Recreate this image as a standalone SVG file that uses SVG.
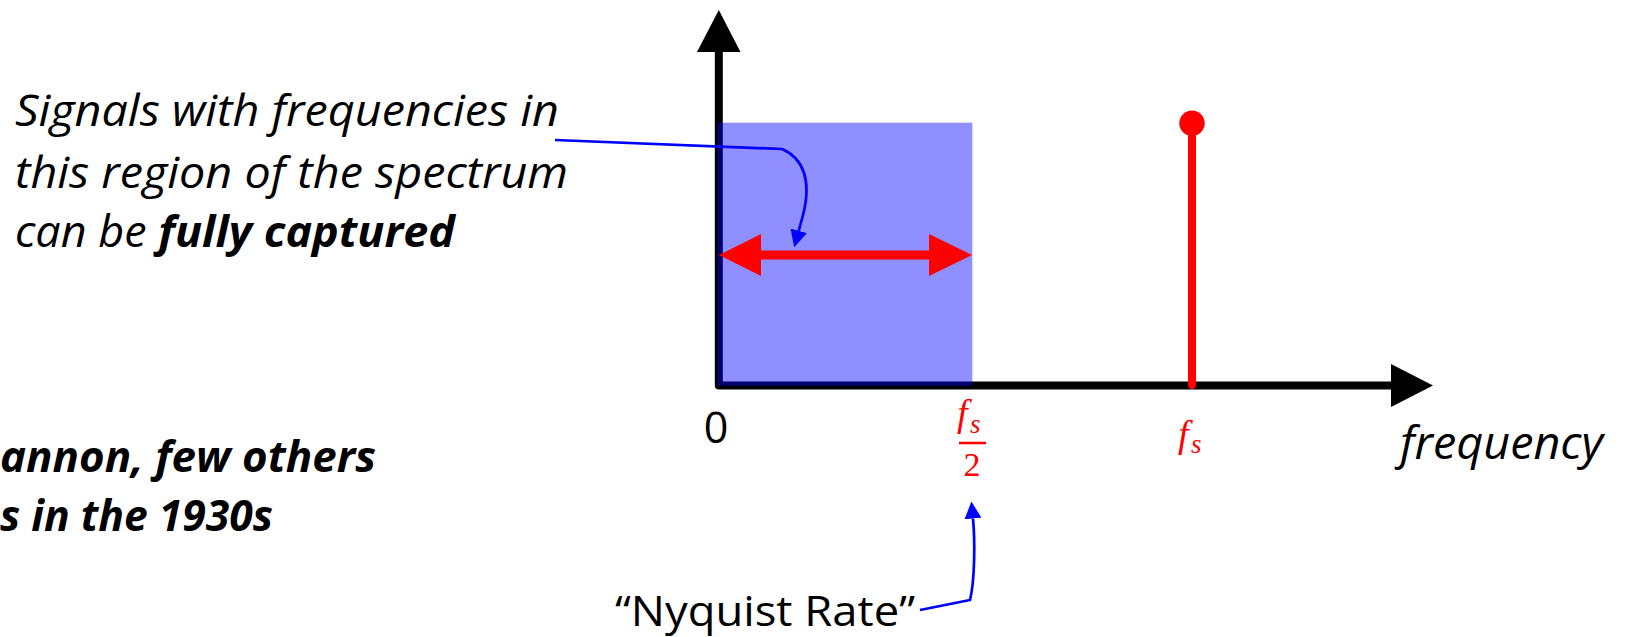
<svg xmlns="http://www.w3.org/2000/svg" width="1627" height="637" viewBox="0 0 1627 637">
  <style>
    .txt { font-family: 'Open Sans', 'Noto Sans', sans-serif; fill: #000; }
    .it { font-style: italic; }
    .bd { font-weight: bold; }
    .math { font-family: 'Liberation Serif', 'DejaVu Serif', serif; fill: #ff0000; }
    .ptr { fill: none; stroke: #0000ff; stroke-width: 2.7; stroke-linejoin: round; }
  </style>
  <defs>
    <marker id="bluehead" viewBox="0 0 17 17" refX="0" refY="8.5" markerWidth="17" markerHeight="17" markerUnits="userSpaceOnUse" orient="auto">
      <path d="M0,0 L17,8.5 L0,17 z" fill="#0000ff"/>
    </marker>
  </defs>
  <rect width="1627" height="637" fill="#ffffff"/>

  <g id="axes">
    <polyline points="718.8,50 718.8,385.5 1393,385.5" fill="none" stroke="#000" stroke-width="8" stroke-linejoin="round"/>
    <polygon points="718.8,10 697,52 740.5,52" fill="#000"/>
    <polygon points="1433,385.5 1391,364 1391,407" fill="#000"/>
  </g>

  <g id="band">
    <rect x="717.7" y="122.7" width="254.6" height="263" fill="#0000ff" fill-opacity="0.44"/>
  </g>

  <g id="span-arrow">
    <line x1="758" y1="255" x2="932" y2="255" stroke="#ff0000" stroke-width="9"/>
    <polygon points="719,255 761,234 761,276" fill="#ff0000"/>
    <polygon points="972,255 929,234 929,276" fill="#ff0000"/>
  </g>

  <g id="stem">
    <line x1="1192" y1="125" x2="1192" y2="385" stroke="#ff0000" stroke-width="8" stroke-linecap="round"/>
    <circle cx="1192" cy="123.3" r="12.7" fill="#ff0000"/>
  </g>

  <g id="connectors">
    <path class="ptr" d="M555,140 L782,149 C803,158 812,180 803,215 L798.7,230.8" marker-end="url(#bluehead)"/>
    <path class="ptr" d="M920,610 L970,600 C975,580 975,540 973,518.5" marker-end="url(#bluehead)"/>
  </g>

  <g id="note-captured">
    <text class="txt it" x="15" y="126" font-size="43" textLength="544" lengthAdjust="spacingAndGlyphs">Signals with frequencies in</text>
    <text class="txt it" x="15" y="188" font-size="43" textLength="553" lengthAdjust="spacingAndGlyphs">this region of the spectrum</text>
    <text class="txt it" x="15" y="247" font-size="43" textLength="440" lengthAdjust="spacingAndGlyphs">can be <tspan class="bd">fully captured</tspan></text>
  </g>

  <g id="note-shannon">
    <text class="txt it bd" x="0" y="472" font-size="43" textLength="376" lengthAdjust="spacingAndGlyphs">annon, few others</text>
    <text class="txt it bd" x="0" y="531" font-size="43" textLength="273" lengthAdjust="spacingAndGlyphs">s in the 1930s</text>
  </g>

  <g id="label-zero">
    <text class="txt" x="716" y="443" font-size="43" text-anchor="middle">0</text>
  </g>

  <g id="label-half">
    <text class="math" x="957" y="426" font-size="38" font-style="italic">f</text>
    <text class="math" x="970" y="433" font-size="27" font-style="italic">s</text>
    <line x1="959" y1="443" x2="986" y2="443" stroke="#ff0000" stroke-width="2.5"/>
    <text class="math" x="972" y="476" font-size="34" text-anchor="middle">2</text>
  </g>

  <g id="label-fs">
    <text class="math" x="1178" y="447" font-size="38" font-style="italic">f</text>
    <text class="math" x="1191" y="453" font-size="27" font-style="italic">s</text>
  </g>

  <g id="label-frequency">
    <text class="txt it" x="1400" y="459" font-size="46" textLength="203" lengthAdjust="spacingAndGlyphs">frequency</text>
  </g>

  <g id="label-nyquist">
    <text class="txt" x="615" y="626" font-size="42" textLength="300" lengthAdjust="spacingAndGlyphs">“Nyquist Rate”</text>
  </g>
</svg>
